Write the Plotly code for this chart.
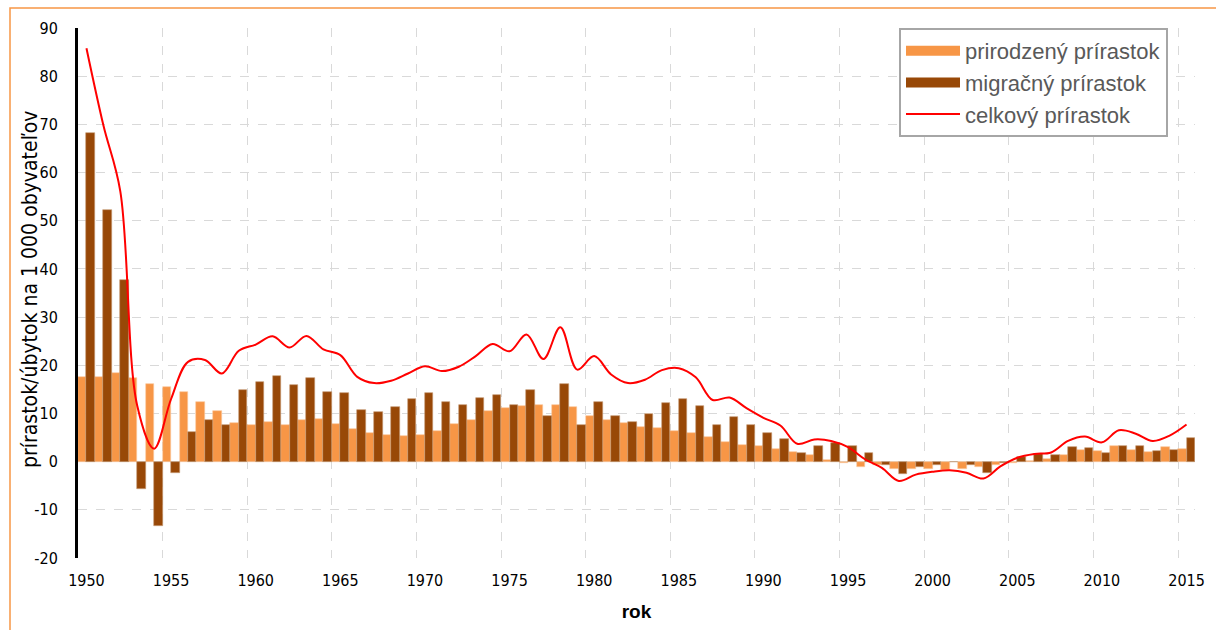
import plotly.graph_objects as go

years = list(range(1950, 2016))

natural = [17.5, 17.6, 18.5, 17.3, 16.1, 15.4, 14.5, 12.4, 10.6, 8.1,
           7.7, 8.2, 7.7, 8.7, 8.8, 7.9, 6.8, 5.9, 5.5, 5.3,
           5.6, 6.4, 7.9, 8.6, 10.6, 11.1, 11.5, 11.8, 11.8, 11.4,
           9.5, 8.6, 8.0, 7.1, 6.9, 6.3, 5.9, 5.1, 4.1, 3.4,
           3.2, 2.7, 2.0, 1.3, 0.4, -0.2, -1.2, -0.6, -1.5, -1.6,
           -1.5, -1.7, -1.5, -1.1, -0.7, -0.2, 0.1, 0.6, 1.3, 2.4,
           2.3, 3.2, 2.5, 2.0, 3.0, 2.7]

migration = [68.3, 52.2, 37.6, -5.7, -13.4, -2.4, 6.2, 8.7, 7.7, 14.9,
             16.6, 17.8, 16.0, 17.4, 14.5, 14.2, 10.8, 10.4, 11.3, 13.0,
             14.2, 12.4, 11.8, 13.3, 13.8, 11.8, 14.9, 9.5, 16.1, 7.7,
             12.4, 9.5, 8.3, 9.9, 12.1, 13.1, 11.6, 7.7, 9.2, 7.7,
             5.9, 4.8, 1.7, 3.3, 3.9, 3.2, 1.7, -0.7, -2.5, -1.1,
             -0.6, -0.1, -0.8, -2.4, -0.3, 1.0, 1.5, 1.3, 3.0, 2.8,
             1.7, 3.3, 3.3, 2.3, 2.4, 5.0]

total = [85.8, 69.8, 56.1, 11.6, 2.7, 13.0, 20.7, 21.1, 18.3, 23.0,
         24.3, 26.0, 23.7, 26.1, 23.3, 22.1, 17.6, 16.3, 16.8, 18.3,
         19.8, 18.8, 19.7, 21.9, 24.4, 22.9, 26.4, 21.3, 27.9, 19.1,
         21.9, 18.1, 16.3, 17.0, 19.0, 19.4, 17.5, 12.8, 13.3, 11.1,
         9.1, 7.5, 3.7, 4.6, 4.3, 3.0, 0.5, -1.3, -4.0, -2.7,
         -2.1, -1.8, -2.3, -3.5, -1.0, 0.8, 1.6, 1.9, 4.3, 5.2,
         4.0, 6.5, 5.8, 4.3, 5.4, 7.7]

x_ticks = [1950, 1955, 1960, 1965, 1970, 1975, 1980, 1985, 1990, 1995, 2000, 2005, 2010, 2015]
y_ticks = [-20, -10, 0, 10, 20, 30, 40, 50, 60, 70, 80, 90]
y_ticktext = ["-20", "-10", "0", "10", "20", "30", "40", "50", "60", "70", "80", "90"]

names = ["prirodzený prírastok", "migračný prírastok", "celkový prírastok"]
y_title = "prírastok/úbytok na 1 000 obyvateľov"
x_title = "rok"
c_nat = "#F79646"
c_mig = "#984807"
c_tot = "#FF0000"

narrow = "Liberation Sans Narrow, DejaVu Sans Condensed, Liberation Sans, sans-serif"
sans = "Liberation Sans, Arial, sans-serif"

fig = go.Figure()
fig.add_trace(go.Bar(x=years, y=natural, name=names[0], marker=dict(color=c_nat, line=dict(color="#FAC9A0", width=0.6)), showlegend=False))
fig.add_trace(go.Bar(x=years, y=migration, name=names[1], marker=dict(color=c_mig, line=dict(color="#C49A72", width=0.6)), showlegend=False))
fig.add_trace(go.Scatter(x=years, y=total, name=names[2], mode="lines", line=dict(color=c_tot, width=2, shape="spline", smoothing=1.0), showlegend=False))

# legend entries
for nm, col, w, g in [(names[0], c_nat, 10, "a"), (names[1], c_mig, 10, "b"), (names[2], c_tot, 2, "c")]:
    fig.add_trace(go.Scatter(x=[None], y=[None], mode="lines", name=nm, legendgroup=g,
                             line=dict(color=col, width=w)))

x0_px, x1_px, y0_px, y1_px = 78, 1195, 28, 558
W, H = 1216, 630

def px2paper_x(p):
    return (p - x0_px) / (x1_px - x0_px)

def px2paper_y(p):
    return (y1_px - p) / (y1_px - y0_px)

fig.update_layout(
    width=W, height=H,
    margin=dict(l=x0_px, r=W - x1_px, t=y0_px, b=H - y1_px, pad=0),
    paper_bgcolor="white", plot_bgcolor="white",
    barmode="group", bargap=0, bargroupgap=0,
    showlegend=True,
    legend=dict(x=px2paper_x(899), y=px2paper_y(28), xanchor="left", yanchor="top",
                bgcolor="white", bordercolor="#A6A6A6", borderwidth=2,
                font=dict(family=sans, size=22, color="#595959"),
                traceorder="grouped", tracegroupgap=0, itemwidth=54,
                itemclick=False, itemdoubleclick=False),
    xaxis=dict(range=[1949.5, 2015.5], tickmode="array", tickvals=x_ticks,
               ticktext=[str(v) for v in x_ticks], showgrid=False, zeroline=False,
               ticks="outside", ticklen=8, tickcolor="rgba(0,0,0,0)",
               tickfont=dict(family=narrow, size=16, color="#000000"),
               minor=dict(tick0=1949.5, dtick=5, showgrid=True, gridcolor="#D9D9D9",
                          griddash="dash", gridwidth=1, ticks=""),
               title=dict(text="<b>" + x_title + "</b>", font=dict(family=sans, size=19, color="#000000"), standoff=15),
               showline=False),
    yaxis=dict(range=[-20, 90], tickmode="array", tickvals=y_ticks, ticktext=y_ticktext,
               showgrid=True, gridcolor="#D9D9D9", griddash="dash", gridwidth=1,
               zeroline=True, zerolinecolor="#D9D9D9", zerolinewidth=1,
               showline=True, linecolor="#000000", linewidth=3,
               ticks="outside", ticklen=14, tickcolor="rgba(0,0,0,0)",
               tickfont=dict(family=narrow, size=16, color="#000000")),
    annotations=[dict(text=y_title, xref="paper", yref="paper",
                      x=px2paper_x(30), y=px2paper_y(290), xanchor="center", yanchor="middle",
                      textangle=-90, showarrow=False,
                      font=dict(family=narrow, size=21, color="#000000"))],
    shapes=[dict(type="rect", xref="paper", yref="paper",
                 x0=px2paper_x(10), x1=px2paper_x(1222), y0=px2paper_y(636), y1=px2paper_y(8),
                 line=dict(color="#F79646", width=1.5), fillcolor="rgba(0,0,0,0)", layer="below")],
)

fig.write_html("out.html", config={"displayModeBar": False},
               post_script="document.body.style.margin='0';document.body.style.padding='0';document.body.style.overflow='hidden';")
